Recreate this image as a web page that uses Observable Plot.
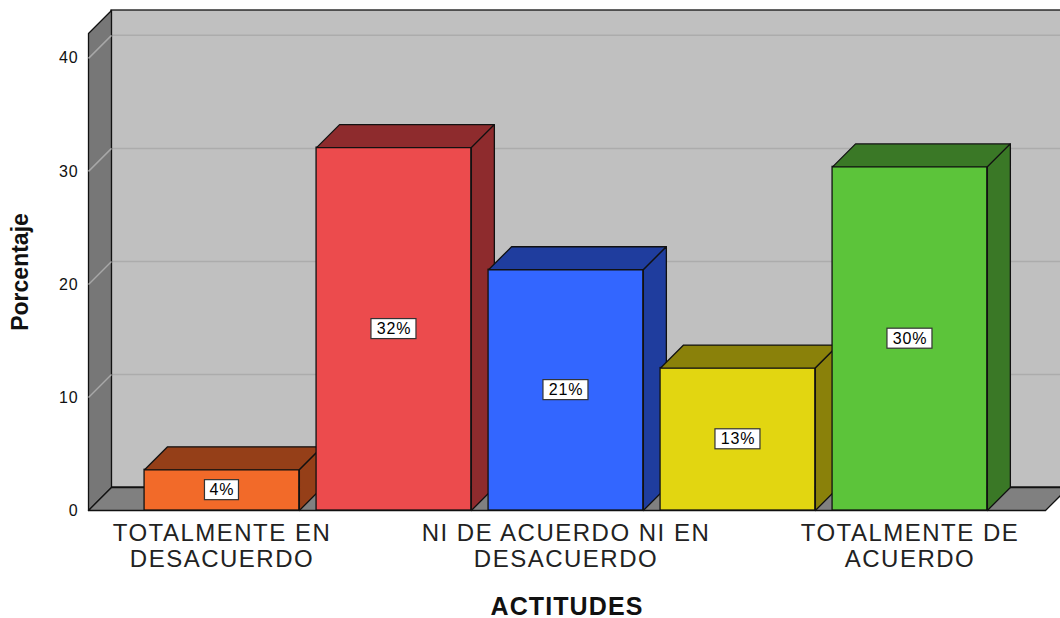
<!DOCTYPE html>
<html><head><meta charset="utf-8">
<script src="https://cdn.jsdelivr.net/npm/d3@7"></script>
<script src="https://cdn.jsdelivr.net/npm/@observablehq/plot@0.6"></script>
<style>
body{margin:0;background:#fff;font-family:Arial,"Liberation Sans",sans-serif}
.cat text{letter-spacing:1.5px}
.xtitle text{letter-spacing:1.1px}
.vlab text{letter-spacing:0.8px}
.yax text{letter-spacing:0.8px}
</style>
</head><body><div id="chart"></div>
<script>
// ---- data ----
const categories = ["TOTALMENTE EN DESACUERDO", "EN DESACUERDO", "NI DE ACUERDO NI EN DESACUERDO", "DE ACUERDO", "TOTALMENTE DE ACUERDO"];
const tickLabels = ["TOTALMENTE EN\nDESACUERDO", "", "NI DE ACUERDO NI EN\nDESACUERDO", "", "TOTALMENTE DE\nACUERDO"];
const percentages = [3.6, 32.1, 21.3, 12.6, 30.4];
const valueLabels = ["4%", "32%", "21%", "13%", "30%"];
const frontColors = ["#f26a29", "#ec4b4d", "#3366ff", "#e2d611", "#5cc43a"];
const shadeColors = ["#953f18", "#8e2b2d", "#1f3d9e", "#8a810a", "#3a7826"];
const yTicks = [0, 10, 20, 30, 40];

// ---- layout ----
const W = 1060, H = 618;
const ML = 88, MR = 15, MT = 33, MB = 108;
const X_DOMAIN = [-0.776, 4.788];
const Y_DOMAIN = [0, 42.2];
const DEPTH = 23; // px depth of 3D effect
const pxPerX = (W - ML - MR) / (X_DOMAIN[1] - X_DOMAIN[0]);
const pxPerY = (H - MT - MB) / (Y_DOMAIN[1] - Y_DOMAIN[0]);
const DX = DEPTH / pxPerX, DY = DEPTH / pxPerY;
const BW = 0.45;
const x0 = X_DOMAIN[0], x1 = X_DOMAIN[1], yTop = Y_DOMAIN[1];

const bars = categories.map((c, i) => ({i, c, v: percentages[i], label: valueLabels[i], front: frontColors[i], shade: shadeColors[i]}));

const poly = pts => pts.concat([pts[0]]).map(([x, y]) => ({x, y}));

const leftWall = poly([[x0, 0], [x0, yTop], [x0 + DX, yTop + DY], [x0 + DX, DY]]);
const floor = poly([[x0, 0], [x1, 0], [x1 + DX, DY], [x0 + DX, DY]]);
const gridVals = yTicks.filter(t => t > 0);

const barMarks = bars.flatMap(b => {
  const top = poly([[b.i - BW, b.v], [b.i + BW, b.v], [b.i + BW + DX, b.v + DY], [b.i - BW + DX, b.v + DY]]);
  const side = poly([[b.i + BW, 0], [b.i + BW, b.v], [b.i + BW + DX, b.v + DY], [b.i + BW + DX, DY]]);
  return [
    Plot.rect([b], {x1: d => d.i - BW, x2: d => d.i + BW, y1: 0, y2: "v", fill: "front", stroke: "#111", strokeWidth: 1.3}),
    Plot.line(top, {x: "x", y: "y", fill: b.shade, stroke: "#111", strokeWidth: 1.3, curve: "linear"}),
    Plot.line(side, {x: "x", y: "y", fill: b.shade, stroke: "#111", strokeWidth: 1.3, curve: "linear"})
  ];
});

const boxW = s => (s.length * 11 + 12) / 2 / pxPerX;
const boxH = 10 / pxPerY;

const chart = Plot.plot({
  width: W, height: H,
  marginLeft: ML, marginRight: MR, marginTop: MT, marginBottom: MB,
  x: {type: "linear", domain: X_DOMAIN, axis: null},
  y: {type: "linear", domain: Y_DOMAIN, axis: null},
  color: {type: "identity"},
  style: {background: "white", fontFamily: "Arial, 'Liberation Sans', sans-serif", overflow: "hidden"},
  marks: [
    // back wall
    Plot.rect([0], {x1: x0 + DX, x2: x1 + DX + 1, y1: DY, y2: yTop + DY, fill: "#c0c0c0", stroke: "#111", strokeWidth: 1.3}),
    Plot.ruleY(gridVals, {x1: x0 + DX, x2: x1 + DX + 1, y: d => d + DY, stroke: "#acacac", strokeWidth: 1.5}),
    // left wall
    Plot.line(leftWall, {x: "x", y: "y", fill: "#777777", stroke: "#111", strokeWidth: 1.3, curve: "linear"}),
    Plot.link(gridVals, {x1: x0, x2: x0 + DX, y1: d => d, y2: d => d + DY, stroke: "#a8a8a8", strokeWidth: 1.5}),
    // floor
    Plot.line(floor, {x: "x", y: "y", fill: "#808080", stroke: "#111", strokeWidth: 1.3, curve: "linear"}),
    // bars
    ...barMarks,
    // value labels
    Plot.rect(bars, {x1: d => d.i - boxW(d.label), x2: d => d.i + boxW(d.label), y1: d => d.v / 2 - boxH, y2: d => d.v / 2 + boxH, fill: "white", stroke: "#333", strokeWidth: 1.2}),
    Plot.text(bars, {x: "i", y: d => d.v / 2, text: "label", fontSize: 16, fill: "#000", className: "vlab"}),
    // axes
    Plot.axisY(yTicks, {tickSize: 0, tickPadding: 10, fontSize: 16, label: null, color: "#111", className: "yax"}),
    Plot.text(bars.filter(d => tickLabels[d.i]), {x: "i", y: 0, text: d => tickLabels[d.i], dy: 13, lineAnchor: "top", lineHeight: 1.05, fontSize: 24, fill: "#222", className: "cat"}),
    Plot.text(["Porcentaje"], {frameAnchor: "left", dx: -68, rotate: -90, textAnchor: "middle", lineAnchor: "middle", fontSize: 23, fontWeight: "bold", fill: "#111"}),
    Plot.text(["ACTITUDES"], {frameAnchor: "bottom", dy: 96, lineAnchor: "middle", fontSize: 25, fontWeight: "bold", fill: "#111", className: "xtitle"})
  ]
});
document.getElementById("chart").appendChild(chart);
</script>
</body></html>
